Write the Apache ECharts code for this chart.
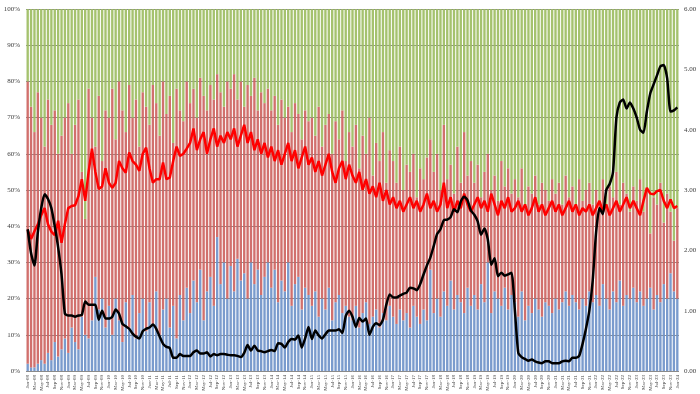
<!DOCTYPE html>
<html><head><meta charset="utf-8">
<script src="https://cdn.jsdelivr.net/npm/echarts@6/dist/echarts.min.js"></script>
<style>html,body{margin:0;padding:0;background:#fff}#c{width:700px;height:394px}</style>
</head><body><div id="c"></div>
<script>
// Months Jan-08 .. Jan-24
const monthNames = ['Jan','Feb','Mar','Apr','May','Jun','Jul','Aug','Sep','Oct','Nov','Dec'];
const categories = [];
for (let y = 8; y <= 24; y++) for (let m = 0; m < 12; m++) { if (y === 24 && m > 0) break; categories.push(monthNames[m] + '-' + String(y).padStart(2,'0')); }

// Blue share (%)
const direct = [
 2,1,1,2,3,2,5,3,8,4,6,9,
 5,12,8,6,15,10,9,14,26,17,20,12,
 18,10,20,14,8,19,12,21,9,16,20,11,
 19,13,22,10,17,20,12,18,9,21,14,23,
 16,25,19,28,14,22,26,18,37,24,30,20,
 29,22,31,25,27,20,30,24,28,21,26,30,
 23,28,19,25,22,30,18,24,26,17,23,21,
 18,22,15,20,17,23,14,19,21,16,18,15,
 14,18,12,16,19,13,15,17,12,16,14,18,
 15,13,17,14,16,12,18,15,13,17,14,28,
 16,20,15,22,18,25,17,21,19,16,23,18,
 21,17,24,19,30,16,22,20,18,23,17,21,
 19,15,22,14,18,16,20,17,15,19,18,16,
 20,17,19,22,18,21,19,17,20,18,22,19,
 21,18,24,20,17,22,19,25,18,21,20,23,
 19,22,18,20,23,17,21,19,24,20,27,22,
 20];
// Red share (%)
const indirect = [
 78,72,65,75,67,60,70,65,64,56,59,61,
 69,48,60,69,40,32,69,56,36,59,38,60,
 52,68,44,66,64,47,67,49,66,46,57,62,
 49,66,52,55,63,51,64,45,69,51,55,57,
 58,53,51,53,62,50,53,57,45,53,43,60,
 49,60,44,55,46,59,46,57,44,56,48,48,
 49,48,49,50,48,43,48,50,45,47,49,48,
 52,43,58,42,51,48,46,50,43,56,40,51,
 48,50,44,49,41,57,39,46,46,50,38,43,
 43,39,45,36,41,43,42,33,43,36,45,36,
 39,40,35,46,35,32,32,41,33,50,31,40,
 31,40,24,36,30,34,32,27,40,28,39,28,
 34,33,34,31,33,33,34,29,37,31,29,37,
 29,35,27,32,30,30,26,36,27,32,30,27,
 29,29,29,25,34,26,36,21,34,28,24,28,
 28,31,26,30,15,31,25,33,17,29,17,14,
 25];
// Red line (left axis, %)
const redLine = [
 39,36.5,38.6,40.5,43,45,40.5,38.5,37.5,41.5,35.4,40.6,
 45,45.6,45.8,48.3,53,47,55,61.4,55,50.3,51,56,
 52,50.6,52,58,56,54.8,60.4,58,57,55.3,60,61.7,
 56,52,53,53,57.6,53,53.4,58,62,59.4,60,61.4,
 63,67,61,64,66,60,64,67,62,65,63,66,
 64,67,62,65,68,63,66,61,64,60,63,59,
 62,58,61,57,60,63,58,61,56,59,62,57,
 59,55,58,54,57,60,55,52,56,58,53,57,
 54,52,55,50,53,49,51,48,52,47,50,46,
 48,45,47,44,46,48,45,47,44,46,49,45,
 47,44,46,52,45,48,44,47,45,49,46,44,
 46,48,45,47,44,49,46,43,47,45,48,44,
 45,47,44,46,43,45,48,44,46,43,45,47,
 44,46,43,45,47,44,46,43,45,44,46,43,
 45,47,44,46,43,45,47,44,46,48,45,47,
 45,43,47,50.6,49,48.8,49.7,50,47,45,47.4,45,
 45.6];
// Black line (right axis)
const blackLine = [
 2.35,1.95,1.75,2.3,2.7,2.93,2.85,2.7,2.4,2.05,1.6,0.95,
 0.92,0.92,0.9,0.92,0.93,1.15,1.1,1.1,1.1,0.85,1.0,0.87,
 0.87,0.9,1.02,0.95,0.78,0.74,0.7,0.62,0.57,0.54,0.66,0.7,
 0.72,0.77,0.7,0.57,0.45,0.4,0.38,0.22,0.22,0.28,0.25,0.25,
 0.25,0.31,0.34,0.29,0.29,0.31,0.24,0.28,0.26,0.28,0.28,0.27,
 0.26,0.26,0.25,0.23,0.30,0.43,0.34,0.42,0.34,0.33,0.31,0.33,
 0.35,0.33,0.46,0.45,0.39,0.48,0.53,0.52,0.59,0.39,0.54,0.73,
 0.53,0.67,0.59,0.54,0.61,0.67,0.67,0.67,0.69,0.63,0.91,1.0,
 0.90,0.73,0.88,0.82,0.87,0.60,0.73,0.79,0.76,0.85,1.1,1.27,
 1.22,1.22,1.25,1.28,1.30,1.38,1.37,1.34,1.44,1.60,1.75,1.88,
 2.07,2.27,2.35,2.50,2.51,2.55,2.68,2.63,2.81,2.89,2.83,2.66,
 2.59,2.48,2.26,2.36,2.18,1.76,1.87,1.57,1.63,1.58,1.60,1.63,
 1.0,0.3,0.23,0.2,0.17,0.19,0.16,0.14,0.13,0.16,0.16,0.13,
 0.13,0.13,0.16,0.17,0.16,0.22,0.22,0.25,0.45,0.7,1.0,1.5,
 2.3,2.7,2.6,3.0,3.1,3.3,4.2,4.45,4.5,4.35,4.45,4.35,
 4.2,4.0,3.95,4.3,4.6,4.75,4.9,5.05,5.07,4.85,4.3,4.32,
 4.37];
const leftTicks = {min:0, max:100, interval:10};
const rightTicks = {min:0, max:6, interval:1};

const dealers = direct.map((d,i) => +(100 - d - indirect[i]).toFixed(2));

const chart = echarts.init(document.getElementById('c'), null, {renderer:'canvas'});
const lbl = {color:'#404040', fontSize:7, fontFamily:'Liberation Serif'};
chart.setOption({
  animation:false,
  backgroundColor:'#fff',
  grid:{left:26, right:21, top:9, bottom:23},
  xAxis:{type:'category', data:categories, boundaryGap:true,
    axisLine:{show:false}, axisTick:{show:false},
    axisLabel:{rotate:90, interval:1, fontSize:5, color:'#404040', fontFamily:'Liberation Serif', margin:4}},
  yAxis:[
    {type:'value', min:leftTicks.min, max:leftTicks.max, interval:leftTicks.interval, position:'left',
     axisLabel:Object.assign({formatter:'{value}%', margin:6}, lbl),
     axisLine:{show:false}, axisTick:{show:false},
     splitLine:{show:true, lineStyle:{color:'#8a8a8a', width:1}}},
    {type:'value', min:rightTicks.min, max:rightTicks.max, interval:rightTicks.interval, position:'right',
     axisLabel:Object.assign({formatter:v=>v.toFixed(2), margin:5}, lbl),
     axisLine:{show:false}, axisTick:{show:false}, splitLine:{show:false}}
  ],
  series:[
    {type:'bar', stack:'s', data:direct, barCategoryGap:'30%', itemStyle:{color:'#6f93c9', opacity:0.92}},
    {type:'bar', stack:'s', data:indirect, itemStyle:{color:'#cd6461', opacity:0.92}},
    {type:'bar', stack:'s', data:dealers, itemStyle:{color:'#9dbd62', opacity:0.92}},
    {type:'line', data:redLine, yAxisIndex:0, showSymbol:false, lineStyle:{color:'#ff0000', width:2.5}, z:5},
    {type:'line', data:blackLine, yAxisIndex:1, showSymbol:false, smooth:0.2, lineStyle:{color:'#000', width:2.5}, z:6}
  ]
});
</script></body></html>
